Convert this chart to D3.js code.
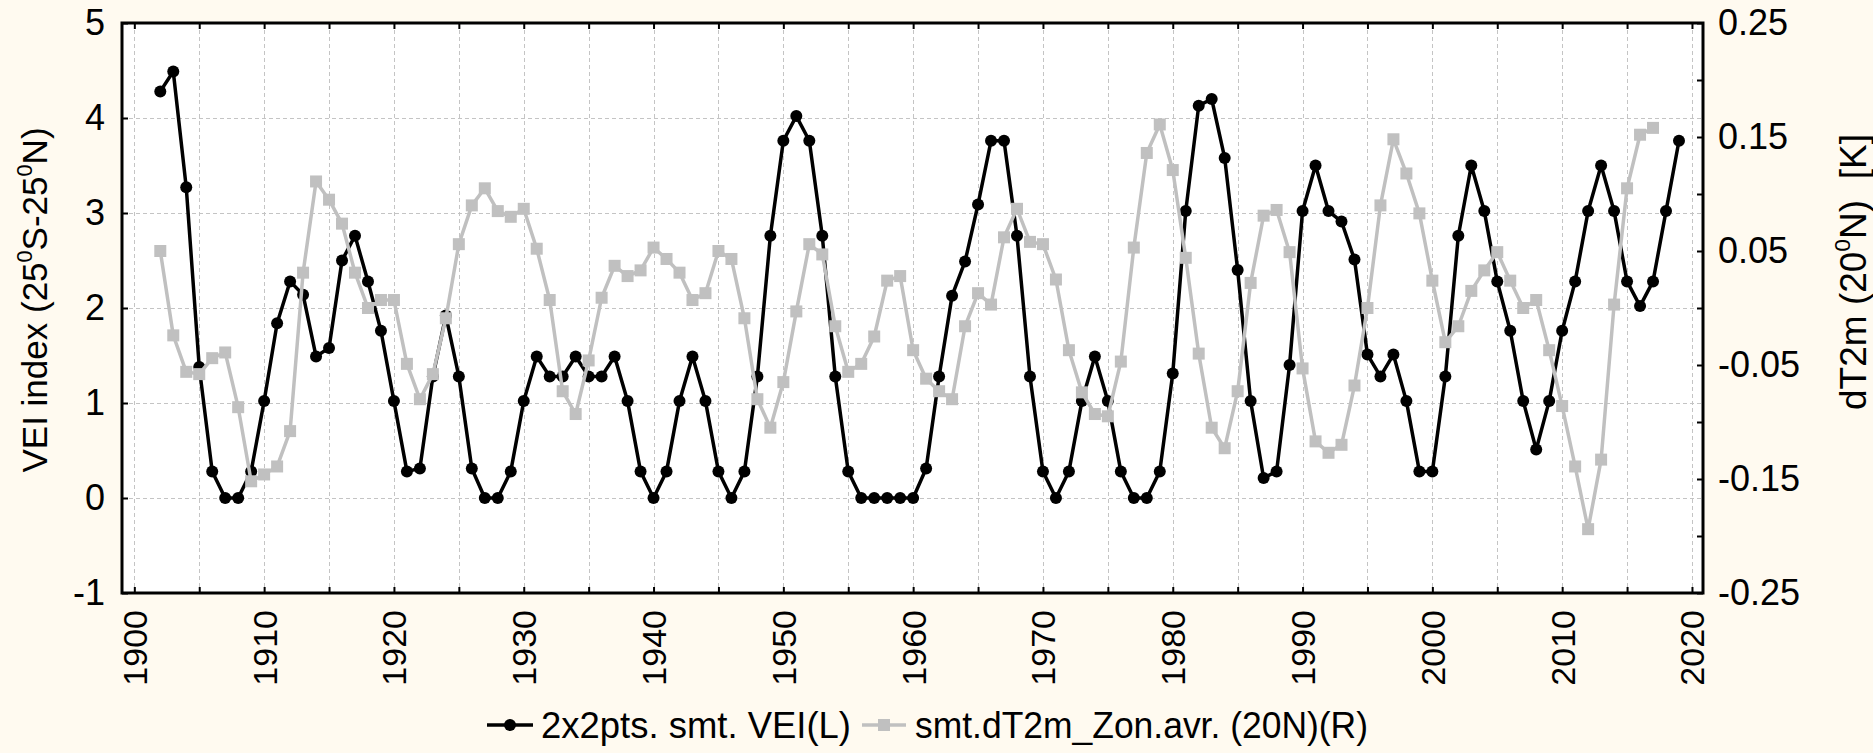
<!DOCTYPE html>
<html>
<head>
<meta charset="utf-8">
<script src="https://cdn.jsdelivr.net/npm/d3@7"></script>
<style>
  html, body { margin: 0; padding: 0; background: #fffaf0; }
  svg { display: block; font-family: "Liberation Sans", Arial, sans-serif; }
</style>
</head>
<body>
<svg id="chart" width="1873" height="753"></svg>
<script>
// annual values, first year 1902
const veiYears = d3.range(1902, 2020);
const veiValues = [
  4.28, 4.49, 3.27, 1.38, 0.28, 0, 0, 0.28, 1.02, 1.84,
  2.28, 2.14, 1.49, 1.58, 2.50, 2.76, 2.28, 1.76, 1.02, 0.28,
  0.31, 1.28, 1.92, 1.28, 0.31, 0, 0, 0.28, 1.02, 1.49,
  1.28, 1.28, 1.49, 1.28, 1.28, 1.49, 1.02, 0.28, 0, 0.28,
  1.02, 1.49, 1.02, 0.28, 0, 0.28, 1.28, 2.76, 3.76, 4.02,
  3.76, 2.76, 1.28, 0.28, 0, 0, 0, 0, 0, 0.31,
  1.28, 2.13, 2.49, 3.09, 3.76, 3.76, 2.76, 1.28, 0.28, 0,
  0.28, 1.02, 1.49, 1.02, 0.28, 0, 0, 0.28, 1.31, 3.02,
  4.13, 4.20, 3.58, 2.40, 1.02, 0.21, 0.28, 1.40, 3.02, 3.50,
  3.02, 2.91, 2.51, 1.51, 1.28, 1.51, 1.02, 0.28, 0.28, 1.28,
  2.76, 3.50, 3.02, 2.28, 1.76, 1.02, 0.51, 1.02, 1.76, 2.28,
  3.02, 3.50, 3.02, 2.28, 2.02, 2.28, 3.02, 3.76
];

const dtYears = d3.range(1902, 2018);
const dtValues = [
  0.050, -0.024, -0.056, -0.058, -0.044, -0.039, -0.087, -0.152, -0.146, -0.139,
  -0.108, 0.031, 0.111, 0.095, 0.074, 0.031, 0.000, 0.007, 0.007, -0.049,
  -0.080, -0.058, -0.009, 0.056, 0.090, 0.105, 0.085, 0.080, 0.087, 0.052,
  0.007, -0.073, -0.093, -0.046, 0.009, 0.037, 0.028, 0.033, 0.053, 0.043,
  0.031, 0.007, 0.013, 0.050, 0.043, -0.009, -0.080, -0.105, -0.065, -0.003,
  0.056, 0.047, -0.016, -0.056, -0.049, -0.025, 0.024, 0.028, -0.037, -0.062,
  -0.073, -0.080, -0.016, 0.013, 0.003, 0.062, 0.087, 0.058, 0.056, 0.025,
  -0.037, -0.074, -0.093, -0.095, -0.047, 0.053, 0.136, 0.161, 0.121, 0.044,
  -0.040, -0.105, -0.123, -0.073, 0.022, 0.081, 0.086, 0.049, -0.053, -0.117,
  -0.127, -0.120, -0.068, 0.000, 0.090, 0.148, 0.118, 0.083, 0.024, -0.030,
  -0.016, 0.015, 0.033, 0.049, 0.024, 0.000, 0.007, -0.037, -0.086, -0.139,
  -0.194, -0.133, 0.003, 0.105, 0.152, 0.158
];

const xTicks = [1900, 1905, 1910, 1915, 1920, 1925, 1930, 1935, 1940, 1945, 1950, 1955, 1960,
  1965, 1970, 1975, 1980, 1985, 1990, 1995, 2000, 2005, 2010, 2015, 2020];
const xLabels = [1900, 1910, 1920, 1930, 1940, 1950, 1960, 1970, 1980, 1990, 2000, 2010, 2020];
const leftTicks = [-1, 0, 1, 2, 3, 4, 5];
const rightTicks = [-0.25, -0.2, -0.15, -0.1, -0.05, 0, 0.05, 0.1, 0.15, 0.2, 0.25];
const rightLabels = [-0.25, -0.15, -0.05, 0.05, 0.15, 0.25];

const legendNames = ["2x2pts. smt. VEI(L)", "smt.dT2m_Zon.avr. (20N)(R)"];

const plot = {left: 122, right: 1703, top: 23, bottom: 593};
const grey = "#c0c0c0";

const svg = d3.select("#chart");

const x = d3.scaleLinear().domain([1899.05, 2020.85]).range([plot.left, plot.right]);
const yL = d3.scaleLinear().domain([-1, 5]).range([plot.bottom, plot.top]);
const yR = d3.scaleLinear().domain([-0.25, 0.25]).range([plot.bottom, plot.top]);

// plot area
svg.append("rect")
  .attr("x", plot.left).attr("y", plot.top)
  .attr("width", plot.right - plot.left).attr("height", plot.bottom - plot.top)
  .attr("fill", "white");

// grid
const grid = svg.append("g")
  .attr("stroke", "#c4c4c4")
  .attr("stroke-width", 1)
  .attr("stroke-dasharray", "4,3");
grid.selectAll(".vg").data(xTicks).enter().append("line")
  .attr("x1", d => Math.round(x(d)) + 0.5).attr("x2", d => Math.round(x(d)) + 0.5)
  .attr("y1", plot.top).attr("y2", plot.bottom);
grid.selectAll(".hg").data(leftTicks).enter().append("line")
  .attr("y1", d => Math.round(yL(d)) + 0.5).attr("y2", d => Math.round(yL(d)) + 0.5)
  .attr("x1", plot.left).attr("x2", plot.right);

// VEI series (black)
const vei = veiYears.map((yr, i) => ({year: yr, v: veiValues[i]}));
svg.append("path")
  .datum(vei)
  .attr("fill", "none")
  .attr("stroke", "black")
  .attr("stroke-width", 3.5)
  .attr("stroke-linejoin", "round")
  .attr("d", d3.line().x(d => x(d.year)).y(d => yL(d.v)));
svg.selectAll(".dot").data(vei).enter().append("circle")
  .attr("cx", d => x(d.year)).attr("cy", d => yL(d.v))
  .attr("r", 6).attr("fill", "black");

// dT2m series (grey, right axis)
const dt = dtYears.map((yr, i) => ({year: yr, v: dtValues[i]}));
svg.append("path")
  .datum(dt)
  .attr("fill", "none")
  .attr("stroke", grey)
  .attr("stroke-width", 3.5)
  .attr("stroke-linejoin", "round")
  .attr("d", d3.line().x(d => x(d.year)).y(d => yR(d.v)));
svg.selectAll(".sq").data(dt).enter().append("rect")
  .attr("x", d => x(d.year) - 6).attr("y", d => yR(d.v) - 6)
  .attr("width", 12).attr("height", 12).attr("fill", grey);

// axes
const bottomAxis = svg.append("g")
  .attr("transform", `translate(0,${plot.bottom})`)
  .call(d3.axisBottom(x).tickValues(xTicks).tickSize(-6)
    .tickFormat(d => xLabels.includes(d) ? String(d) : ""));
bottomAxis.selectAll("text")
  .attr("transform", "rotate(-90)")
  .attr("text-anchor", "end")
  .attr("x", -17).attr("y", 0).attr("dy", "0.35em")
  .attr("font-size", 34).attr("font-family", null).attr("fill", "black");

svg.append("g")
  .attr("transform", `translate(0,${plot.top})`)
  .call(d3.axisTop(x).tickValues(xTicks).tickSize(-6).tickFormat(""));

const leftAxis = svg.append("g")
  .attr("transform", `translate(${plot.left},0)`)
  .call(d3.axisLeft(yL).tickValues(leftTicks).tickSize(-6).tickPadding(17)
    .tickFormat(d => String(d)));
leftAxis.selectAll("text").attr("font-size", 36).attr("font-family", null).attr("fill", "black");

const rightAxis = svg.append("g")
  .attr("transform", `translate(${plot.right},0)`)
  .call(d3.axisRight(yR).tickValues(rightTicks).tickSize(-6).tickPadding(15)
    .tickFormat(d => rightLabels.some(v => Math.abs(v - d) < 1e-9) ? d.toFixed(2) : ""));
rightAxis.selectAll("text").attr("font-size", 36).attr("font-family", null).attr("fill", "black");

svg.selectAll(".domain").remove();
svg.selectAll(".tick line").attr("stroke", "black").attr("stroke-width", 2);

// frame
svg.append("rect")
  .attr("x", plot.left).attr("y", plot.top)
  .attr("width", plot.right - plot.left).attr("height", plot.bottom - plot.top)
  .attr("fill", "none").attr("stroke", "black").attr("stroke-width", 3);

// axis titles with superscript zeros
function titleWithSups(g, parts, size) {
  const t = g.append("text").attr("font-size", size).attr("text-anchor", "middle").attr("fill", "black");
  const supSize = size * 0.62;
  const lift = size * 0.42;
  let raised = false;
  parts.forEach(p => {
    const ts = t.append("tspan").text(p.s);
    if (p.sup) {
      ts.attr("font-size", supSize).attr("dy", -lift);
      raised = true;
    } else if (raised) {
      ts.attr("dy", lift);
      raised = false;
    }
  });
  return t;
}

titleWithSups(
  svg.append("g").attr("transform", "translate(47,300) rotate(-90)"),
  [{s: "VEI index (25"}, {s: "0", sup: true}, {s: "S-25"}, {s: "0", sup: true}, {s: "N)"}],
  35
);

titleWithSups(
  svg.append("g").attr("transform", "translate(1866,272) rotate(-90)"),
  [{s: "dT2m (20"}, {s: "0", sup: true}, {s: "N)\u00a0\u00a0[K]"}],
  37
);

// legend
const legY = 725;
const leg = svg.append("g");
leg.append("line").attr("x1", 487).attr("x2", 533).attr("y1", legY).attr("y2", legY)
  .attr("stroke", "black").attr("stroke-width", 3.5);
leg.append("circle").attr("cx", 510).attr("cy", legY).attr("r", 6).attr("fill", "black");
leg.append("text").attr("x", 541).attr("y", legY + 13).attr("font-size", 37)
  .attr("textLength", 310).attr("lengthAdjust", "spacingAndGlyphs").text(legendNames[0]);

leg.append("line").attr("x1", 862).attr("x2", 906).attr("y1", legY).attr("y2", legY)
  .attr("stroke", grey).attr("stroke-width", 3.5);
leg.append("rect").attr("x", 884 - 6).attr("y", legY - 6).attr("width", 12).attr("height", 12).attr("fill", grey);
leg.append("text").attr("x", 915).attr("y", legY + 13).attr("font-size", 37)
  .attr("textLength", 453).attr("lengthAdjust", "spacingAndGlyphs").text(legendNames[1]);
</script>
</body>
</html>
